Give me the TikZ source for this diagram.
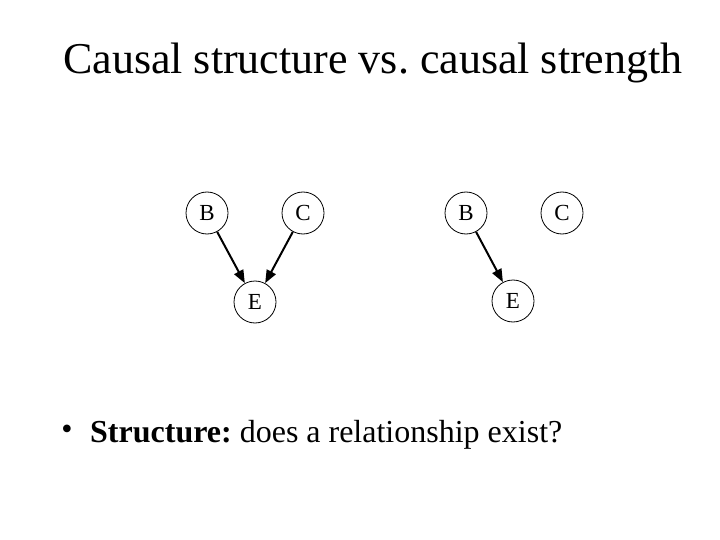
\documentclass[tikz,border=0pt]{standalone}
\usepackage{fontspec}
\setmainfont{Liberation Serif}
\usetikzlibrary{arrows.meta}
\frenchspacing
\begin{document}
\begin{tikzpicture}[x=1pt,y=-1pt,
  var/.style={circle,draw,line width=0.8pt,minimum size=42pt,inner sep=0pt,font=\fontsize{23}{23}\selectfont},
  edge/.style={line width=2pt,-{Triangle[length=13pt,width=10pt]}}]
\useasboundingbox (0,0) rectangle (720,540);
\node[anchor=base west,inner sep=0pt,font=\fontsize{44}{44}\selectfont] (title) at (63,74) {Causal structure vs. causal strength};
\node[var] (b1) at (207,213) {B};
\node[var] (c1) at (303,213) {C};
\node[var] (e1) at (255,302) {E};
\node[var] (b2) at (466,213) {B};
\node[var] (c2) at (562,213) {C};
\node[var] (e2) at (513,301) {E};
\draw[edge] (b1) -- (e1);
\draw[edge] (c1) -- (e1);
\draw[edge] (b2) -- (e2);
\node[inner sep=0pt,font=\fontsize{32}{32}\selectfont] (dot) at (67,432) {\textbullet};
\node[anchor=base west,inner sep=0pt,font=\fontsize{32}{32}\selectfont] (bullet) at (90,442) {\textbf{Structure:} does a relationship exist?};
\end{tikzpicture}
\end{document}
